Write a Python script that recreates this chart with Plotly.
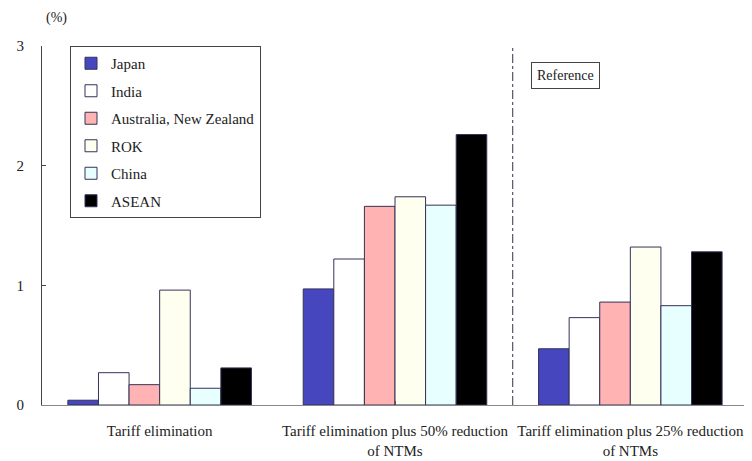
import plotly.graph_objects as go

categories = ["Tariff elimination",
              "Tariff elimination plus 50% reduction<br>of NTMs",
              "Tariff elimination plus 25% reduction<br>of NTMs"]
series_names = ["Japan", "India", "Australia, New Zealand", "ROK", "China", "ASEAN"]
japan = [0.04, 0.97, 0.47]
india = [0.27, 1.22, 0.73]
aus_nz = [0.17, 1.66, 0.86]
rok = [0.96, 1.74, 1.32]
china = [0.14, 1.67, 0.83]
asean = [0.31, 2.26, 1.28]
series_values = [japan, india, aus_nz, rok, china, asean]
colors = ["#4646bf", "#ffffff", "#ffb3b3", "#fffff0", "#e8ffff", "#000000"]
y_ticks = [0, 1, 2, 3]

FONT = "Liberation Serif, Times New Roman, serif"
OFF = 8  # default page body margin
L, R, T, B = 42, 4, 46, 56
PW, PH = 752 - L - R, 461 - T - B
fig = go.Figure()
for i, (name, vals, col) in enumerate(zip(series_names, series_values, colors)):
    fig.add_trace(go.Bar(
        name=name, x=list(range(len(categories))), y=vals,
        marker=dict(color=col, line=dict(color="#33335a", width=1)),
        legendgroup=f"g{i}",
    ))

fig.add_shape(type="line", xref="x", yref="y", x0=1.5, x1=1.5, y0=0, y1=3,
              line=dict(color="#555566", width=1.2, dash="dashdot"))

fig.add_annotation(text="Reference", xref="paper", yref="paper",
                   x=(565 - L) / PW, y=(T + PH - 76) / PH, showarrow=False,
                   xanchor="center", yanchor="middle",
                   font=dict(family=FONT, size=14, color="#222"),
                   bordercolor="#444", borderwidth=1, borderpad=5, bgcolor="white")
fig.add_annotation(text="(%)", xref="paper", yref="paper",
                   x=(56 - L) / PW, y=(T + PH - 18) / PH, showarrow=False,
                   xanchor="center", yanchor="middle",
                   font=dict(family=FONT, size=14, color="#222"))

fig.update_layout(
    width=752, height=461,
    margin=dict(l=L - OFF, r=R + OFF, t=T - OFF, b=B + OFF),
    paper_bgcolor="white", plot_bgcolor="white",
    barmode="group", bargap=0.22, bargroupgap=0,
    font=dict(family=FONT, size=15, color="#222"),
    legend=dict(x=(70 - L) / PW, y=1, xanchor="left", yanchor="top",
                bordercolor="#444", borderwidth=1, bgcolor="white",
                traceorder="grouped", tracegroupgap=5,
                font=dict(family=FONT, size=15, color="#222"),
                itemwidth=30),
    xaxis=dict(tickmode="array", tickvals=list(range(len(categories))),
               ticktext=categories, range=[-0.5, 2.5], automargin=False,
               tickson="boundaries", ticks="inside", ticklen=4,
               tickcolor="#555", showline=True, linecolor="#888", linewidth=1,
               mirror=False, showgrid=False, ticklabelstandoff=12,
               tickfont=dict(family=FONT, size=15)),
    yaxis=dict(range=[0, 3], tickvals=y_ticks, ticks="inside", ticklen=4,
               tickcolor="#444", showline=True, linecolor="#444", linewidth=1,
               mirror=True, showgrid=False, zeroline=False, automargin=False,
               ticklabelstandoff=14,
               tickfont=dict(family=FONT, size=15)),
)
fig.write_html("out.html")
